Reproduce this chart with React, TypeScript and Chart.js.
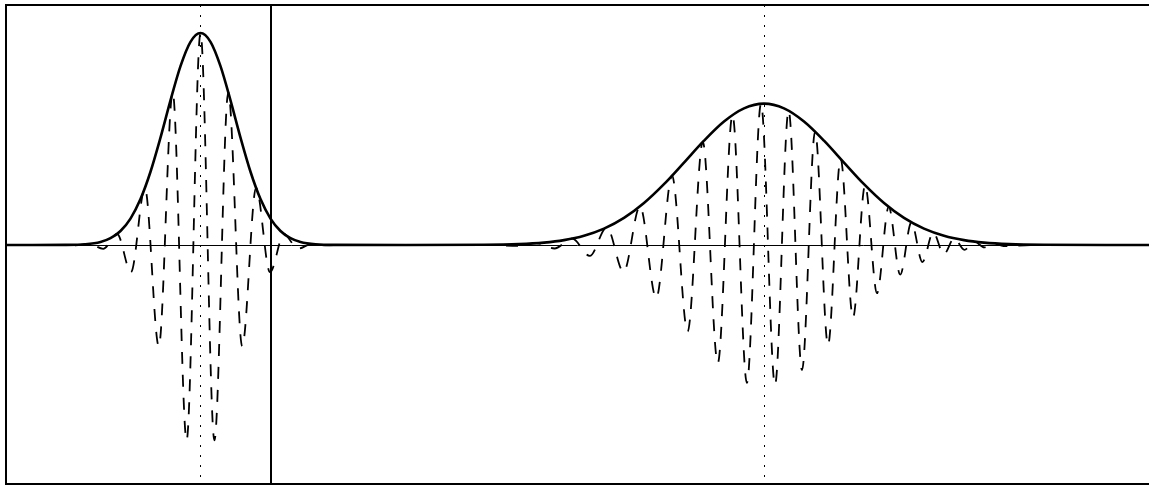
import React, { useEffect, useRef } from "react";
import { Chart, registerables } from "chart.js";

Chart.register(...registerables);

// Time axis (t) and signal values at the turning points of the oscillating (dashed) signal
const waveT = [
  0, 40,
  69.4, 83.3, 97.2, 111.1, 125.0, 138.9, 152.8, 166.7, 180.6, 194.5,
  208.4, 222.3, 236.2, 250.1, 264.0, 277.9, 291.8, 305.7, 319.6,
  345, 480,
  511.9, 530.4, 548.5, 566.3, 583.7, 600.8, 617.6, 634.0, 650.2, 666.0,
  681.6, 696.8, 711.8, 726.5, 740.9, 755.0, 769.0, 782.6, 796.0, 809.1,
  822.0, 834.6, 847.0, 859.1, 871.0, 882.7, 894.2, 905.4, 916.4, 927.2,
  937.8, 948.2, 958.4, 968.4, 978.3, 988.0, 997.5,
  1025, 1143,
];
const waveV = [
  0, 0,
  -0.0013, 0.0052, -0.0179, 0.052, -0.1284, 0.2688, -0.4776, 0.72, -0.9212, 1.0,
  -0.9212, 0.72, -0.4776, 0.2688, -0.1284, 0.052, -0.0179, 0.0052, -0.0013,
  0, 0,
  -0.004, 0.0085, -0.0165, 0.0301, -0.0514, 0.083, -0.1265, 0.1823, -0.2503, 0.3266,
  -0.4076, 0.4862, -0.557, 0.6133, -0.6506, 0.6663, -0.66, 0.6337, -0.5903, 0.535,
  -0.4721, 0.4066, -0.3419, 0.2816, -0.2272, 0.1797, -0.1395, 0.1068, -0.0804, 0.0596,
  -0.0437, 0.0316, -0.0226, 0.0159, -0.0111, 0.0077, -0.0053,
  0, 0,
];

// Envelope (solid curve)
const envT = [
  0, 20,
  59.5, 79.5, 94.5, 104.5, 114.5, 124.5, 134.5, 144.5, 154.5, 164.5, 174.5, 184.5,
  194.5,
  204.5, 214.5, 224.5, 234.5, 244.5, 254.5, 264.5, 274.5, 284.5, 294.5, 309.5, 329.5,
  400,
  478, 513, 538, 558, 578, 598, 618, 638, 658, 678, 698, 718, 738,
  758,
  778, 798, 818, 838, 858, 878, 898, 918, 938, 958, 978, 1003, 1038,
  1100, 1143,
];
const envV = [
  0, 0,
  0.0004, 0.0036, 0.0143, 0.032, 0.0659, 0.1246, 0.2165, 0.3456, 0.5066, 0.6821, 0.8437, 0.9584,
  1.0,
  0.9584, 0.8437, 0.6821, 0.5066, 0.3456, 0.2165, 0.1246, 0.0659, 0.032, 0.0143, 0.0036, 0.0004,
  0,
  0.0009, 0.0042, 0.0113, 0.0229, 0.0434, 0.077, 0.1277, 0.198, 0.2869, 0.3887, 0.4922, 0.5827, 0.6447,
  0.6668,
  0.6447, 0.5827, 0.4922, 0.3887, 0.2869, 0.198, 0.1277, 0.077, 0.0434, 0.0229, 0.0113, 0.0042, 0.0009,
  0, 0,
];

// Marker lines
const dottedMarkers = [194.5, 758];
const solidMarkers = [265];
const baselineLevel = [0];

// Axis ranges
const tRange = [0, 1143];
const yRange = [-1.132, 1.132];

const guidesPlugin = {
  id: "guides",
  beforeDatasetsDraw(chart: any) {
    const { ctx, chartArea: a, scales } = chart;
    const xs = scales.x;
    const ys = scales.y;
    ctx.save();
    ctx.strokeStyle = "#000";
    // baseline
    ctx.lineWidth = 1;
    ctx.setLineDash([]);
    baselineLevel.forEach((v) => {
      const y = Math.floor(ys.getPixelForValue(v)) + 0.5;
      ctx.beginPath();
      ctx.moveTo(a.left, y);
      ctx.lineTo(a.right, y);
      ctx.stroke();
    });
    // dotted markers
    ctx.setLineDash([2, 8]);
    dottedMarkers.forEach((t) => {
      const x = Math.floor(xs.getPixelForValue(t)) + 0.5;
      ctx.beginPath();
      ctx.moveTo(x, a.top);
      ctx.lineTo(x, a.bottom);
      ctx.stroke();
    });
    // solid markers
    ctx.setLineDash([]);
    ctx.lineWidth = 2;
    solidMarkers.forEach((t) => {
      const x = Math.round(xs.getPixelForValue(t));
      ctx.beginPath();
      ctx.moveTo(x, a.top);
      ctx.lineTo(x, a.bottom);
      ctx.stroke();
    });
    ctx.restore();
  },
  afterDraw(chart: any) {
    const { ctx, chartArea: a } = chart;
    ctx.save();
    ctx.strokeStyle = "#000";
    ctx.lineWidth = 2;
    ctx.setLineDash([]);
    ctx.beginPath();
    ctx.moveTo(a.right, a.top);
    ctx.lineTo(a.left, a.top);
    ctx.lineTo(a.left, a.bottom - 1);
    ctx.lineTo(a.right, a.bottom - 1);
    ctx.stroke();
    ctx.restore();
  },
};

export default function App() {
  const canvasRef = useRef<HTMLCanvasElement | null>(null);

  useEffect(() => {
    const canvas = canvasRef.current;
    if (!canvas) return;
    const chart = new Chart(canvas, {
      type: "line",
      data: {
        datasets: [
          {
            label: "signal",
            data: waveT.map((t, i) => ({ x: t, y: waveV[i] })),
            borderColor: "#000",
            borderWidth: 1.8,
            borderDash: [12, 11],
            pointRadius: 0,
            fill: false,
            cubicInterpolationMode: "monotone",
          },
          {
            label: "envelope",
            data: envT.map((t, i) => ({ x: t, y: envV[i] })),
            borderColor: "#000",
            borderWidth: 2.6,
            pointRadius: 0,
            fill: false,
            cubicInterpolationMode: "monotone",
          },
        ],
      },
      options: {
        animation: false,
        responsive: false,
        devicePixelRatio: 1,
        events: [],
        layout: { padding: { left: 6, right: 0, top: 5, bottom: 2 } },
        plugins: {
          legend: { display: false },
          tooltip: { enabled: false },
        },
        scales: {
          x: { type: "linear", min: tRange[0], max: tRange[1], display: false },
          y: { type: "linear", min: yRange[0], max: yRange[1], display: false },
        },
      },
      plugins: [guidesPlugin],
    });
    return () => chart.destroy();
  }, []);

  return (
    <div
      style={{
        position: "fixed",
        left: 0,
        top: 0,
        width: 1149,
        height: 487,
        background: "#fff",
      }}
    >
      <canvas
        ref={canvasRef}
        width={1149}
        height={487}
        style={{ width: 1149, height: 487, display: "block" }}
      />
    </div>
  );
}
